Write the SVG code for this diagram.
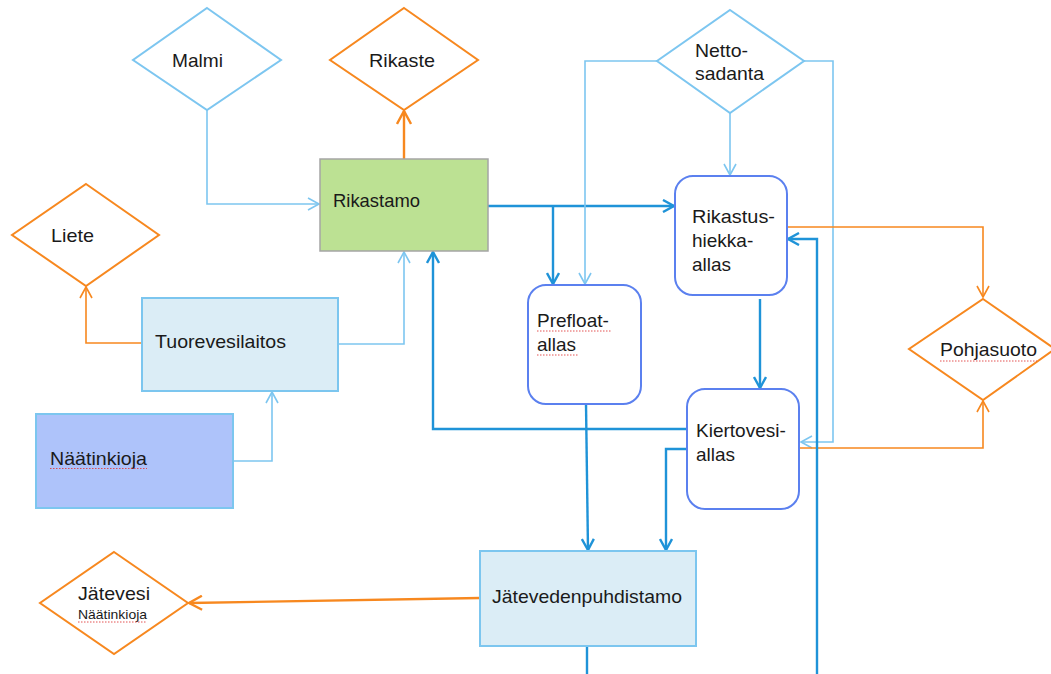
<svg xmlns="http://www.w3.org/2000/svg" width="1051" height="674" viewBox="0 0 1051 674">
<style>
text{font-family:"Liberation Sans",Arial,sans-serif;font-size:19px;fill:#1a1a1a}
.small{font-size:13.5px}
.dia-b{fill:#fff;stroke:#7dc6f0;stroke-width:2}
.dia-o{fill:#fff;stroke:#f7881f;stroke-width:2}
.pool{fill:#fff;stroke:#5b80ef;stroke-width:2}
.lb{fill:#dbedf6;stroke:#7cc6ef;stroke-width:2}
.c{fill:none}
.light{stroke:#7dc6f0;stroke-width:1.6}
.dark{stroke:#1f93d8;stroke-width:2.4}
.or{stroke:#f7881f;stroke-width:1.6}
.orb{stroke:#f7881f;stroke-width:2.4}
.spell{fill:none;stroke:#e04040;stroke-width:0.9;stroke-dasharray:1.5 1.5}
</style>
<defs>
<marker id="aL" markerUnits="userSpaceOnUse" markerWidth="14" markerHeight="14" viewBox="0 0 14 14" refX="12" refY="7" orient="auto"><path d="M1,1 L12,7 L1,13" fill="none" stroke="#7dc6f0" stroke-width="1.6"/></marker>
<marker id="aD" markerUnits="userSpaceOnUse" markerWidth="14" markerHeight="14" viewBox="0 0 14 14" refX="12" refY="7" orient="auto"><path d="M1,1 L12,7 L1,13" fill="none" stroke="#1f93d8" stroke-width="2.4"/></marker>
<marker id="aO" markerUnits="userSpaceOnUse" markerWidth="14" markerHeight="14" viewBox="0 0 14 14" refX="12" refY="7" orient="auto"><path d="M1,1 L12,7 L1,13" fill="none" stroke="#f7881f" stroke-width="1.6"/></marker>
<marker id="aOB" markerUnits="userSpaceOnUse" markerWidth="16" markerHeight="16" viewBox="0 0 16 16" refX="14" refY="8" orient="auto"><path d="M1,1 L14,8 L1,15" fill="none" stroke="#f7881f" stroke-width="2.4"/></marker>
</defs>
<rect width="1051" height="674" fill="#fff"/>

<g id="connectors">
<path class="c light" d="M207,110 V204 H319" marker-end="url(#aL)"/>
<path class="c orb" d="M404,159 V111" marker-end="url(#aOB)"/>
<path class="c or" d="M142,343 H86 V287" marker-end="url(#aO)"/>
<path class="c light" d="M338,344 H404 V252" marker-end="url(#aL)"/>
<path class="c light" d="M233,461 H272 V392" marker-end="url(#aL)"/>
<path class="c dark" d="M488,206 H674" marker-end="url(#aD)"/>
<path class="c dark" d="M553,206 V284" marker-end="url(#aD)"/>
<path class="c light" d="M657,61 H585 V284" marker-end="url(#aL)"/>
<path class="c light" d="M730,113 V175" marker-end="url(#aL)"/>
<path class="c light" d="M804,61 H833 V442 H801" marker-end="url(#aL)"/>
<path class="c dark" d="M760,299 V388" marker-end="url(#aD)"/>
<path class="c dark" d="M687,429 H433 V252" marker-end="url(#aD)"/>
<path class="c dark" d="M687,449 H666 V550" marker-end="url(#aD)"/>
<path class="c dark" d="M586,404 L588,550" marker-end="url(#aD)"/>
<path class="c or" d="M787,227 H983 V297" marker-end="url(#aO)"/>
<path class="c or" d="M800,448 H983 V401" marker-end="url(#aO)"/>
<path class="c orb" d="M480,598 L189,603" marker-end="url(#aOB)"/>
<path class="c dark" d="M587,646 V680 H817 V239 H788" marker-end="url(#aD)"/>
</g>

<g id="malmi">
<polygon class="dia-b" points="207,8 281,60 207,110 133,60"/>
<text x="172" y="67" textLength="51" lengthAdjust="spacingAndGlyphs">Malmi</text>
</g>
<g id="rikaste">
<polygon class="dia-o" points="404,8 478,60 404,110 330,60"/>
<text x="369" y="67" textLength="66" lengthAdjust="spacingAndGlyphs">Rikaste</text>
</g>
<g id="liete">
<polygon class="dia-o" points="86,184 159,235 86,286 12,235"/>
<text x="51" y="242" textLength="43" lengthAdjust="spacingAndGlyphs">Liete</text>
</g>
<g id="rikastamo">
<rect x="320" y="159" width="168" height="92" fill="#bce193" stroke="#a5a5a5" stroke-width="1.5"/>
<text x="333" y="207" textLength="87" lengthAdjust="spacingAndGlyphs">Rikastamo</text>
</g>
<g id="tuorevesilaitos">
<rect class="lb" x="142" y="298" width="196" height="93"/>
<text x="155" y="348" textLength="131" lengthAdjust="spacingAndGlyphs">Tuorevesilaitos</text>
</g>
<g id="naatinkioja">
<rect x="36" y="414" width="197" height="94" fill="#aec3fa" stroke="#7cc6ef" stroke-width="2"/>
<text x="50" y="465" textLength="97" lengthAdjust="spacingAndGlyphs">Näätinkioja</text>
<path class="spell" d="M50,468.5 H147"/>
</g>
<g id="nettosadanta">
<polygon class="dia-b" points="730,10 804,61 730,113 657,61"/>
<text x="695" y="57" textLength="53" lengthAdjust="spacingAndGlyphs">Netto-</text>
<text x="695" y="80" textLength="69" lengthAdjust="spacingAndGlyphs">sadanta</text>
</g>
<g id="rikastushiekka">
<rect class="pool" x="675" y="176" width="112" height="119" rx="18"/>
<text x="692" y="223" textLength="83" lengthAdjust="spacingAndGlyphs">Rikastus-</text>
<text x="692" y="247">hiekka-</text>
<text x="692" y="271">allas</text>
</g>
<g id="prefloat">
<rect class="pool" x="528" y="285" width="113" height="119" rx="18"/>
<text x="537" y="327">Prefloat-</text>
<text x="537" y="351">allas</text>
<path class="spell" d="M537,331 H612 M537,355 H578"/>
</g>
<g id="kiertovesi">
<rect class="pool" x="687" y="389" width="112" height="120" rx="18"/>
<text x="696" y="437">Kiertovesi-</text>
<text x="696" y="461">allas</text>
</g>
<g id="pohjasuoto">
<polygon class="dia-o" points="983,299 1055,349 983,400 909,349"/>
<text x="940" y="356" textLength="97" lengthAdjust="spacingAndGlyphs">Pohjasuoto</text>
<path class="spell" d="M940,361 H1037"/>
</g>
<g id="jatevedenpuhdistamo">
<rect class="lb" x="480" y="551" width="216" height="95"/>
<text x="492" y="603" textLength="190" lengthAdjust="spacingAndGlyphs">Jätevedenpuhdistamo</text>
</g>
<g id="jatevesi">
<polygon class="dia-o" points="114,552 188,603 114,654 40,603"/>
<text x="78" y="600" textLength="72" lengthAdjust="spacingAndGlyphs">Jätevesi</text>
<text class="small" x="78" y="619" textLength="69" lengthAdjust="spacingAndGlyphs">Näätinkioja</text>
<path class="spell" d="M78,622 H147"/>
</g>
</svg>
